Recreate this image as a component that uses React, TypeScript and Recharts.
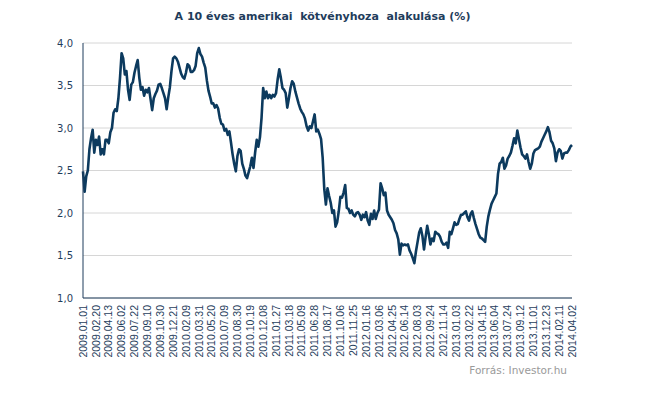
import { LineChart, Line, XAxis, YAxis, CartesianGrid } from "recharts";

const tickLabels = [
  "2009.01.01", "2009.02.20", "2009.04.13", "2009.06.02", "2009.07.22", "2009.09.10",
  "2009.10.30", "2009.12.21", "2010.02.09", "2010.03.31", "2010.05.20", "2010.07.09",
  "2010.08.30", "2010.10.19", "2010.12.08", "2011.01.27", "2011.03.18", "2011.05.09",
  "2011.06.28", "2011.08.17", "2011.10.06", "2011.11.25", "2012.01.16", "2012.03.06",
  "2012.04.25", "2012.06.14", "2012.08.03", "2012.09.24", "2012.11.14", "2013.01.03",
  "2013.02.22", "2013.04.15", "2013.06.04", "2013.07.24", "2013.09.12", "2013.11.01",
  "2013.12.23", "2014.02.11", "2014.04.02",
];

// 8 readings per label interval (roughly every 4-5 trading days)
const yields = [
  2.49, 2.25, 2.43, 2.5, 2.75, 2.88, 2.98, 2.71, 2.86, 2.8,
  2.9, 2.69, 2.75, 2.69, 2.86, 2.86, 2.82, 2.95, 3.0, 3.18,
  3.22, 3.2, 3.35, 3.59, 3.88, 3.82, 3.63, 3.67, 3.45, 3.33,
  3.51, 3.54, 3.65, 3.73, 3.8, 3.59, 3.45, 3.48, 3.38, 3.45,
  3.42, 3.47, 3.34, 3.21, 3.35, 3.4, 3.44, 3.51, 3.52, 3.47,
  3.41, 3.35, 3.22, 3.36, 3.48, 3.67, 3.82, 3.84, 3.82, 3.78,
  3.71, 3.64, 3.6, 3.58, 3.65, 3.75, 3.73, 3.66, 3.66, 3.68,
  3.73, 3.88, 3.94, 3.87, 3.84, 3.77, 3.71, 3.56, 3.44, 3.37,
  3.29, 3.29, 3.24, 3.27, 3.23, 3.12, 3.05, 3.04, 2.97, 2.99,
  2.92, 2.96, 2.83, 2.69, 2.58, 2.49, 2.67, 2.75, 2.73, 2.58,
  2.52, 2.44, 2.41, 2.48, 2.55, 2.65, 2.53, 2.71, 2.86, 2.78,
  2.89, 3.12, 3.47, 3.35, 3.43, 3.35, 3.39, 3.35, 3.39, 3.37,
  3.41, 3.57, 3.69, 3.59, 3.47, 3.45, 3.41, 3.24, 3.35, 3.47,
  3.55, 3.52, 3.43, 3.36, 3.29, 3.23, 3.19, 3.16, 3.11, 3.02,
  2.97, 3.02, 3.0, 3.08, 3.16, 2.96, 2.98, 2.93, 2.87, 2.65,
  2.28, 2.1, 2.29, 2.2, 2.12, 2.0, 2.03, 1.84, 1.89, 2.02,
  2.19, 2.18, 2.24, 2.33, 2.06, 2.05, 2.0, 2.03, 1.98, 1.96,
  2.0, 2.01, 1.98, 1.92, 1.98, 1.95, 2.01, 1.91, 1.86, 1.99,
  1.93, 2.03, 1.93, 2.0, 2.04, 2.35, 2.29, 2.21, 2.24, 2.03,
  1.98, 1.95, 1.92, 1.88, 1.8, 1.76, 1.69, 1.51, 1.64, 1.62,
  1.63, 1.62, 1.63, 1.56, 1.52, 1.47, 1.41, 1.55, 1.66, 1.77,
  1.82, 1.73, 1.57, 1.72, 1.85, 1.75, 1.63, 1.7, 1.67, 1.78,
  1.76, 1.75, 1.72, 1.66, 1.63, 1.63, 1.65, 1.59, 1.78, 1.75,
  1.82, 1.89, 1.86, 1.87, 1.93, 1.98, 1.98, 2.0, 2.02, 1.95,
  1.91, 1.99, 2.02, 1.94, 1.87, 1.81, 1.75, 1.71, 1.7, 1.68,
  1.66, 1.84, 1.96, 2.04, 2.11, 2.15, 2.19, 2.23, 2.46, 2.58,
  2.6, 2.65, 2.52, 2.56, 2.64, 2.67, 2.71, 2.79, 2.88, 2.82,
  2.97, 2.87, 2.77, 2.69, 2.67, 2.64, 2.69, 2.6, 2.52, 2.58,
  2.7, 2.74, 2.75, 2.76, 2.78, 2.84, 2.88, 2.92, 2.96, 3.01,
  2.95, 2.85, 2.82, 2.76, 2.61, 2.71, 2.75, 2.73, 2.64, 2.7,
  2.71, 2.71, 2.74, 2.78, 2.8,
];

const yTicks = [1, 1.5, 2, 2.5, 3, 3.5, 4];
const step = 8;

const data = yields.map((v, i) => ({ idx: i, value: v }));
const xTicks = tickLabels.map((_, i) => i * step);

const navy = "#1f3d5c";

function DateTick(props: any) {
  const { x, y, payload } = props;
  const label = tickLabels[Math.round(payload.value / step)];
  return (
    <text
      transform={`translate(${x},${y}) rotate(-90)`}
      textAnchor="end"
      dy="0.35em"
      fontSize={10.5}
      fontFamily="'Liberation Sans', Arial, sans-serif"
      fill={navy}
    >
      {label}
    </text>
  );
}

export default function App() {
  return (
    <div style={{ position: "absolute", left: 0, top: 0, width: 645, height: 397, background: "#fff" }}>
      <div
        style={{
          position: "absolute",
          left: 0,
          width: 645,
          top: 10,
          textAlign: "center",
          fontFamily: "'DejaVu Sans', sans-serif",
          fontWeight: "bold",
          fontSize: 11,
          color: navy,
          whiteSpace: "pre",
        }}
      >
        A 10 éves amerikai  kötvényhoza  alakulása (%)
      </div>
      <LineChart
        width={645}
        height={397}
        data={data}
        margin={{ top: 43, right: 73, left: 43, bottom: 29 }}
      >
        <CartesianGrid vertical={false} stroke="#d6d6d6" />
        <XAxis
          dataKey="idx"
          type="number"
          domain={[0, yields.length - 1]}
          ticks={xTicks}
          interval={0}
          height={70}
          tickLine={false}
          tickSize={4}
          tickMargin={3}
          stroke={navy}
          tick={<DateTick />}
        />
        <YAxis
          domain={[1, 4]}
          ticks={yTicks}
          width={40}
          tickLine={false}
          tickSize={4}
          tickMargin={6}
          stroke={navy}
          tick={{ fontSize: 10, fill: navy, fontFamily: "'DejaVu Sans', sans-serif" }}
          tickFormatter={(v: number) => v.toFixed(1).replace(".", ",")}
        />
        <Line
          type="linear"
          dataKey="value"
          stroke="#0c3a5e"
          strokeWidth={2.6}
          strokeLinejoin="round"
          dot={false}
          isAnimationActive={false}
        />
      </LineChart>
      <div
        style={{
          position: "absolute",
          right: 78,
          top: 364,
          fontFamily: "'DejaVu Sans', sans-serif",
          fontSize: 10.5,
          color: "#9a9a9a",
        }}
      >
        Forrás: Investor.hu
      </div>
    </div>
  );
}
